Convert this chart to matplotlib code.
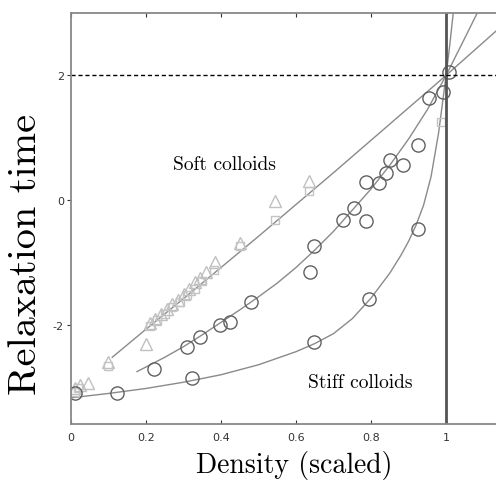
import matplotlib
matplotlib.use('Agg')
import matplotlib.pyplot as plt

# fit curves, points
soft_x = [0.11, 0.2, 0.3, 0.4, 0.5, 0.6, 0.7, 0.8, 0.9, 1.0, 1.133]
soft_y = [-2.52, -2.07, -1.58, -1.08, -0.58, -0.07, 0.44, 0.96, 1.48, 2.0, 2.71]
mid_x = [0.176, 0.25, 0.3, 0.35, 0.4, 0.45, 0.5, 0.55, 0.6, 0.65, 0.7, 0.75, 0.8, 0.85,
         0.9, 0.95, 1.0, 1.05, 1.083]
mid_y = [-2.75, -2.52, -2.35, -2.16, -1.96, -1.76, -1.55, -1.33, -1.08, -0.8, -0.5, -0.16,
         0.18, 0.56, 0.98, 1.45, 2.0, 2.6, 3.0]
stiff_x = [0.0, 0.1, 0.2, 0.3, 0.4, 0.5, 0.6, 0.65, 0.7, 0.75, 0.8, 0.85, 0.88, 0.9, 0.92,
           0.94, 0.96, 0.98, 1.0, 1.01, 1.019]
stiff_y = [-3.17, -3.1, -3.02, -2.92, -2.8, -2.64, -2.43, -2.3, -2.14, -1.9, -1.57, -1.17,
           -0.88, -0.66, -0.4, -0.08, 0.38, 1.08, 2.0, 2.5, 3.0]

# soft colloids (light gray)
tri_x = [0.01, 0.025, 0.045, 0.1, 0.2, 0.21, 0.225, 0.24, 0.255, 0.27, 0.285, 0.3, 0.315,
         0.33, 0.345, 0.36, 0.385, 0.45, 0.545, 0.635]
tri_y = [-3.02, -2.97, -2.93, -2.6, -2.3, -1.97, -1.9, -1.82, -1.75, -1.66, -1.6, -1.5, -1.42,
         -1.32, -1.25, -1.15, -1.0, -0.68, -0.02, 0.3]
sq_x = [0.01, 0.02, 0.1, 0.21, 0.23, 0.25, 0.27, 0.29, 0.31, 0.33, 0.35, 0.38, 0.45, 0.544, 0.635, 0.987]
sq_y = [-3.08, -3.02, -2.66, -2.02, -1.93, -1.82, -1.72, -1.63, -1.52, -1.42, -1.3, -1.12, -0.74,
        -0.32, 0.15, 1.25]

# circles (dark gray)
circ_x = [0.01, 0.122, 0.322, 0.649, 0.794, 0.924,
          0.22, 0.308, 0.344, 0.397, 0.424, 0.48, 0.636, 0.649, 0.725, 0.754, 0.787, 0.787,
          0.82, 0.84, 0.851, 0.885, 0.924, 0.954, 0.993, 1.008]
circ_y = [-3.1, -3.09, -2.85, -2.27, -1.59, -0.47,
          -2.71, -2.36, -2.19, -2.01, -1.96, -1.64, -1.16, -0.74, -0.32, -0.13, -0.33, 0.29,
          0.28, 0.43, 0.65, 0.56, 0.89, 1.64, 1.73, 2.05]

fig = plt.figure(figsize=(4.96, 4.81), dpi=100)
ax = fig.add_axes([0.1431, 0.1164, 0.8569, 0.8545])

ax.plot(soft_x, soft_y, color='#8a8a8a', lw=1)
ax.plot(mid_x, mid_y, color='#8a8a8a', lw=1)
ax.plot(stiff_x, stiff_y, color='#8a8a8a', lw=1)

ax.plot(tri_x, tri_y, '^', ms=8, mfc='none', mec='#c0c0c0', mew=1)
ax.plot(sq_x, sq_y, 's', ms=6, mfc='none', mec='#c4c4c4', mew=1)
ax.plot(circ_x, circ_y, 'o', ms=9.5, mfc='none', mec='#606060', mew=1)

ax.axvline(1.0, color='#555555', lw=2)
ax.axhline(2.0, color='black', lw=1, dashes=(3, 2))

ax.text(0.41, 0.58, 'Soft colloids', fontfamily='cmr10', fontsize=14, ha='center', va='center')
ax.text(0.77, -2.92, 'Stiff colloids', fontfamily='cmr10', fontsize=14, ha='center', va='center')

ax.set_xlim(0, 1.133)
ax.set_ylim(-3.59, 3.0)
ax.set_xticks([0, 0.2, 0.4, 0.6, 0.8, 1])
ax.set_xticklabels(['0', '0.2', '0.4', '0.6', '0.8', '1'])
ax.set_yticks([-2, 0, 2])
ax.set_yticklabels(['-2', '0', '2'])
ax.tick_params(axis='x', direction='in', top=True, length=3, labelsize=8, colors='#333333', pad=6)
ax.tick_params(axis='y', direction='out', length=3, labelsize=8, colors='#333333', pad=2)
for s in ['left', 'bottom', 'top']:
    ax.spines[s].set_color('#888888')
    ax.spines[s].set_linewidth(1.3)
ax.spines['right'].set_visible(False)

ax.set_xlabel('Density (scaled)', fontfamily='cmr10', fontsize=20)
ax.set_ylabel('Relaxation time', fontfamily='cmr10', fontsize=29)
ax.xaxis.set_label_coords(0.525, -0.063)
ax.yaxis.set_label_coords(-0.064, 0.414)

fig.savefig('out.png', dpi=100)
